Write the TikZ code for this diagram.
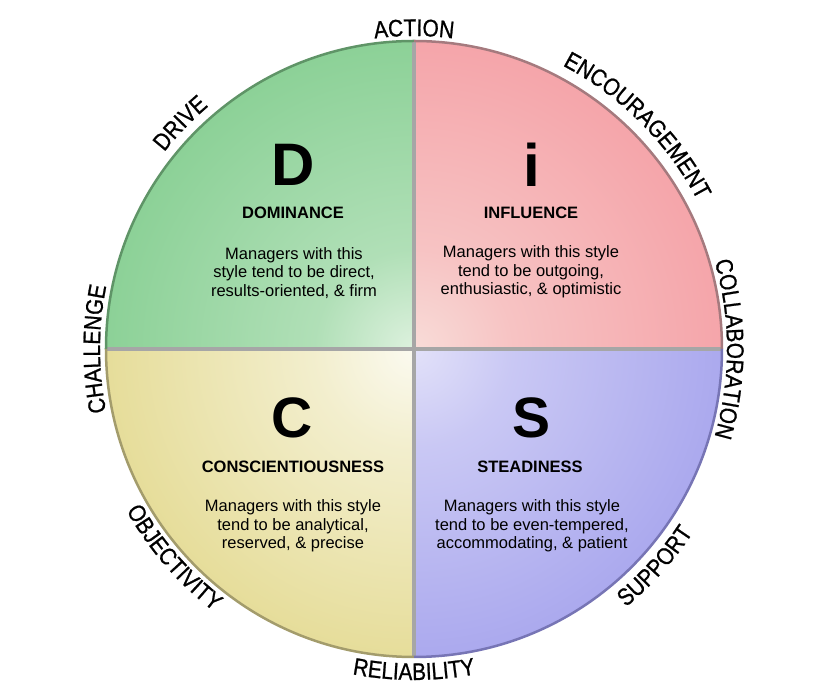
\documentclass[tikz,border=0pt]{standalone}
\usepackage{fontspec}
\setmainfont{Liberation Sans}
\newfontfamily\axisfont[FakeStretch=0.87,FakeBold=0.9]{Liberation Sans}
\usetikzlibrary{decorations.text}
\definecolor{DomEdge}{HTML}{8CD197}
\definecolor{DomCore}{HTML}{DDF1DE}
\definecolor{DomRim}{HTML}{5F9467}
\definecolor{InfEdge}{HTML}{F5A5AA}
\definecolor{InfCore}{HTML}{F8DCD8}
\definecolor{InfRim}{HTML}{A57A7E}
\definecolor{ConEdge}{HTML}{E6DD9A}
\definecolor{ConCore}{HTML}{FBFAF0}
\definecolor{ConRim}{HTML}{A39C6C}
\definecolor{SteEdge}{HTML}{ABA9EE}
\definecolor{SteCore}{HTML}{E2E1F9}
\definecolor{SteRim}{HTML}{7775B5}
\definecolor{Divider}{HTML}{A6A6A6}
\pgfdeclareradialshading{domshade}{\pgfpoint{0bp}{0bp}}{color(0bp)=(DomCore); color(8bp)=(DomEdge!55!DomCore); color(25bp)=(DomEdge); color(50bp)=(DomEdge)}
\pgfdeclareradialshading{infshade}{\pgfpoint{0bp}{0bp}}{color(0bp)=(InfCore); color(8bp)=(InfEdge!45!InfCore); color(25bp)=(InfEdge); color(50bp)=(InfEdge)}
\pgfdeclareradialshading{conshade}{\pgfpoint{0bp}{0bp}}{color(0bp)=(ConCore); color(8bp)=(ConEdge!40!ConCore); color(25bp)=(ConEdge); color(50bp)=(ConEdge)}
\pgfdeclareradialshading{steshade}{\pgfpoint{0bp}{0bp}}{color(0bp)=(SteCore); color(8bp)=(SteEdge!45!SteCore); color(25bp)=(SteEdge); color(50bp)=(SteEdge)}

\begin{document}
\begin{tikzpicture}[x=1pt,y=1pt]
    \tikzset{letter/.style={font=\bfseries\fontsize{60}{60}\selectfont,inner sep=0pt},
      title/.style={font=\bfseries\fontsize{16.5}{18}\selectfont,inner sep=0pt},
      blurb/.style={font=\fontsize{16.5}{18.5}\selectfont,align=center,inner sep=0pt},
      axislabel/.style={decorate,decoration={text along path,text align=center,
        text={|\axisfont\fontsize{24}{26}\selectfont|#1}}}}
    \useasboundingbox (-414,-343) rectangle (414,349);
    \coordinate (top) at (90:308pt);
    \coordinate (bottom) at (270:308pt);
    \coordinate (left) at (180:308pt);
    \coordinate (right) at (0:308pt);
    % quadrants
    \begin{scope}
      \clip (0,0) -- (left) arc[start angle=180,end angle=90,radius=308pt] -- cycle;
      \shade[shading=domshade] (0,0) circle[radius=308pt];
    \end{scope}
    \begin{scope}
      \clip (0,0) -- (top) arc[start angle=90,end angle=0,radius=308pt] -- cycle;
      \shade[shading=infshade] (0,0) circle[radius=308pt];
    \end{scope}
    \begin{scope}
      \clip (0,0) -- (bottom) arc[start angle=270,end angle=180,radius=308pt] -- cycle;
      \shade[shading=conshade] (0,0) circle[radius=308pt];
    \end{scope}
    \begin{scope}
      \clip (0,0) -- (right) arc[start angle=360,end angle=270,radius=308pt] -- cycle;
      \shade[shading=steshade] (0,0) circle[radius=308pt];
    \end{scope}
    \draw[Divider,line width=4pt] (top) -- (bottom);
    \draw[Divider,line width=4pt] (left) -- (right);
    \draw[DomRim,line width=2.5pt] (left) arc[start angle=180,end angle=90,radius=308pt];
    \draw[InfRim,line width=2.5pt] (top) arc[start angle=90,end angle=0,radius=308pt];
    \draw[ConRim,line width=2.5pt] (bottom) arc[start angle=270,end angle=180,radius=308pt];
    \draw[SteRim,line width=2.5pt] (right) arc[start angle=360,end angle=270,radius=308pt];
    % quadrant texts
    \node[letter] (dLetter) at (-121,184) {D};
    \node[title] (dTitle) at (-121,136) {DOMINANCE};
    \node[blurb] (dBlurb) at (-120,76) {Managers with this\\style tend to be direct,\\results-oriented, \& firm};
    \node[letter] (iLetter) at (118,184) {i};
    \node[title] (iTitle) at (117,136) {INFLUENCE};
    \node[blurb] (iBlurb) at (117,77) {Managers with this style\\tend to be outgoing,\\enthusiastic, \& optimistic};
    \node[letter,font=\bfseries\fontsize{57}{57}\selectfont] (cLetter) at (-122,-69) {C};
    \node[title] (cTitle) at (-121,-118) {CONSCIENTIOUSNESS};
    \node[blurb] (cBlurb) at (-121,-177) {Managers with this style\\tend to be analytical,\\reserved, \& precise};
    \node[letter,font=\bfseries\fontsize{57}{57}\selectfont] (sLetter) at (118,-69) {S};
    \node[title] (sTitle) at (116,-118) {STEADINESS};
    \node[blurb] (sBlurb) at (118,-177) {Managers with this style\\tend to be even-tempered,\\accommodating, \& patient};
    % labels round the rim
    \path[axislabel=ACTION] (130:313pt) arc[start angle=130,end angle=50,radius=313pt];
    \path[axislabel=DRIVE] (176:318pt) arc[start angle=176,end angle=96,radius=318pt];
    \path[axislabel=ENCOURAGEMENT] (85:320pt) arc[start angle=85,end angle=5,radius=320pt];
    \path[axislabel=CHALLENGE] (220:314pt) arc[start angle=220,end angle=140,radius=314pt];
    \path[axislabel=COLLABORATION] (40:313pt) arc[start angle=40,end angle=-40,radius=313pt];
    \path[axislabel=OBJECTIVITY] (181:330pt) arc[start angle=181,end angle=261,radius=330pt];
    \path[axislabel=RELIABILITY] (230:331pt) arc[start angle=230,end angle=310,radius=331pt];
    \path[axislabel=SUPPORT] (278:334pt) arc[start angle=278,end angle=358,radius=334pt];
  \end{tikzpicture}
\end{document}
